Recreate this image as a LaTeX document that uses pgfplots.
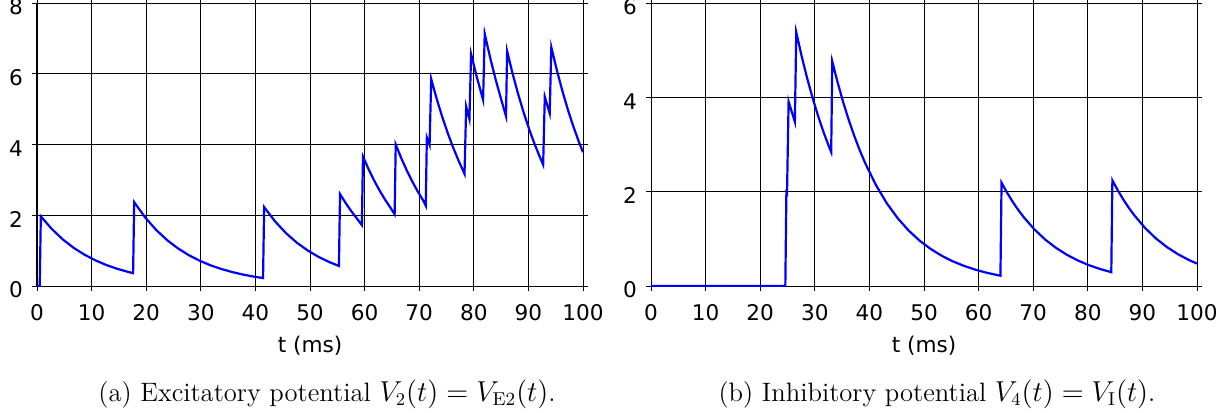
\documentclass[border=0pt]{standalone}
\usepackage{fontspec}
\usepackage{pgfplots}
\pgfplotsset{compat=1.18}
\newfontfamily\dejavu{DejaVu Sans}

\pgfplotsset{
  potstyle/.style={
    scale only axis,
    width=273pt, height=141.5pt,
    xmin=0, xmax=100,
    ymin=0,
    xtick={0,10,...,100},
    grid=major,
    major grid style={black, line width=0.45pt},
    axis line style={black, line width=0.5pt},
    tick align=outside,
    major tick length=2.5pt,
    tick style={black, line width=0.45pt},
    /pgf/number format/assume math mode=true,
    tick label style={font=\dejavu\fontsize{10.8}{12}\selectfont},
    xticklabel style={yshift=-3pt},
    yticklabel style={yshift=-2pt, xshift=-1pt},
    xlabel={t (ms)},
    xlabel style={font=\dejavu\fontsize{10.8}{12}\selectfont, at={(axis description cs:0.5,0)}, anchor=center, yshift=-30pt},
  }
}

\begin{document}
\begin{tikzpicture}
\useasboundingbox (-18.5pt,-63pt) rectangle (596pt,143pt);

\begin{axis}[potstyle, at={(0pt,0pt)}, anchor=south west, ymax=8, ytick={0,2,4,6,8}]
\addplot[blue, line width=1.1pt, no marks] coordinates {
(0,0) (0.5,0) (0.7,1.97) (2.7,1.613) (4.7,1.320) (6.7,1.081) (8.7,0.885) (10.7,0.725)
(12.7,0.593) (14.7,0.486) (16.7,0.398) (17.6,0.363)
(17.8,2.37) (19.8,1.940) (21.8,1.589) (23.8,1.301) (25.8,1.065) (27.8,0.872) (29.8,0.714)
(31.8,0.584) (33.8,0.479) (35.8,0.392) (37.8,0.321) (39.8,0.263) (41.4,0.224)
(41.6,2.23) (43.6,1.826) (45.6,1.495) (47.6,1.224) (49.6,1.002) (51.6,0.820) (53.6,0.672) (55.3,0.567)
(55.5,2.60) (56.5,2.353) (57.5,2.129) (58.5,1.926) (59.5,1.72)
(59.7,3.66) (60.7,3.312) (61.7,2.996) (62.7,2.711) (63.7,2.453) (64.7,2.220) (65.5,2.03)
(65.7,4.00) (66.7,3.619) (67.7,3.275) (68.7,2.963) (69.7,2.681) (70.7,2.426) (71.2,2.27)
(71.4,4.20) (71.9,3.99)
(72.2,5.85) (73.2,5.293) (74.2,4.790) (75.2,4.334) (76.2,3.921) (77.2,3.548) (78.3,3.17)
(78.6,5.07) (79.2,4.72)
(79.5,6.56) (80.5,5.936) (81.7,5.264)
(82.0,7.13) (83.0,6.451) (84.0,5.837) (85.0,5.282) (85.9,4.80)
(86.1,6.64) (87.1,6.008) (88.1,5.436) (89.1,4.919) (90.1,4.451) (91.1,4.027) (92.1,3.644) (92.7,3.43)
(93.0,5.35) (93.9,4.88)
(94.2,6.75) (95.2,6.108) (96.2,5.526) (97.2,5.000) (98.2,4.524) (99.2,4.094) (100,3.78)
};
\end{axis}
\node[font=\fontsize{13.3}{15}\selectfont] at (145pt,-54pt) {(a) Excitatory potential $V_2(t) = V_{\mathrm{E2}}(t)$.};

\begin{axis}[potstyle, at={(307pt,0pt)}, anchor=south west, ymax=6, ytick={0,2,4,6}]
\addplot[blue, line width=1.1pt, no marks] coordinates {
(0,0) (24.6,0) (24.8,2.05) (24.9,1.90) (25.2,3.91) (26.35,3.48)
(26.6,5.38) (27.6,4.868) (28.6,4.405) (29.6,3.986) (30.6,3.606) (31.6,3.263) (32.6,2.953) (33.0,2.84)
(33.2,4.76) (34.2,4.307) (35.2,3.897) (36.2,3.526) (37.2,3.191) (38.2,2.887) (39.2,2.612)
(41.2,2.139) (43.2,1.751) (45.2,1.434) (47.2,1.174) (49.2,0.961) (51.2,0.787) (53.2,0.644)
(55.2,0.527) (57.2,0.432) (59.2,0.354) (61.2,0.289) (63.2,0.237) (64.0,0.219)
(64.2,2.19) (65.2,1.982) (66.2,1.793) (67.2,1.622) (68.2,1.468) (70.2,1.202) (72.2,0.984)
(74.2,0.806) (76.2,0.660) (78.2,0.540) (80.2,0.442) (82.2,0.362) (84.3,0.293)
(84.5,2.24) (85.5,2.027) (86.5,1.834) (87.5,1.659) (88.5,1.501) (90.5,1.229) (92.5,1.006)
(94.5,0.824) (96.5,0.675) (98.5,0.552) (100,0.475)
};
\end{axis}
\node[font=\fontsize{13.3}{15}\selectfont] at (450pt,-54pt) {(b) Inhibitory potential $V_4(t) = V_{\mathrm{I}}(t)$.};
\end{tikzpicture}
\end{document}
